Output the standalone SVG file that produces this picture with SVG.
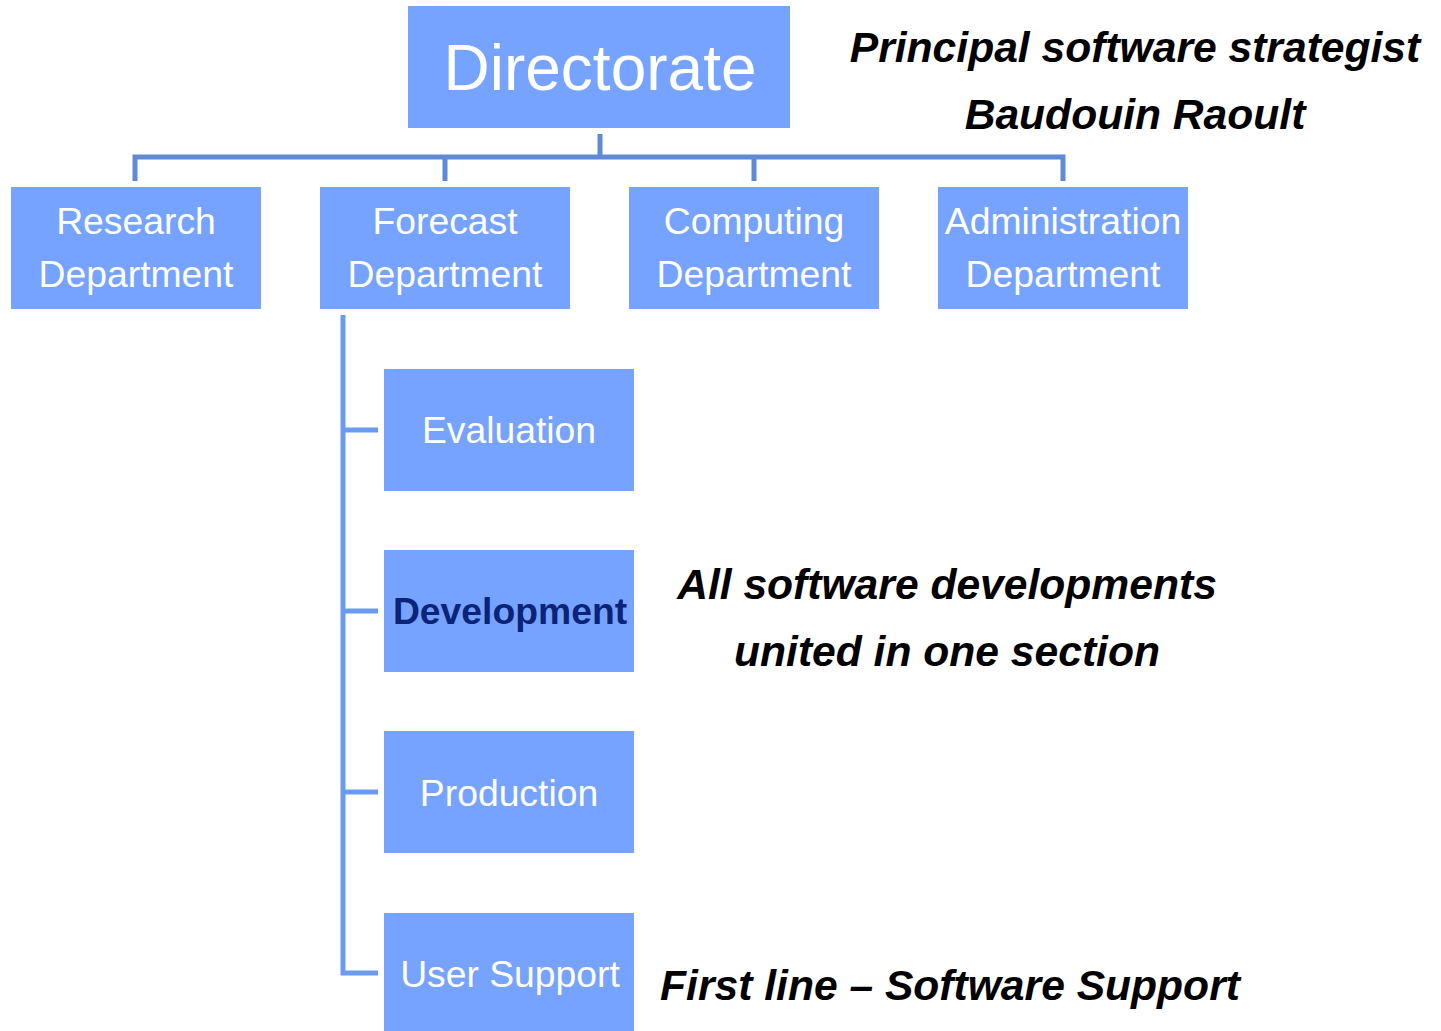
<svg xmlns="http://www.w3.org/2000/svg" width="1441" height="1031" viewBox="0 0 1441 1031">
<style>
.box{fill:#75A3FF;}
.t{font-family:"Liberation Sans",Arial,sans-serif;fill:#fff;text-anchor:middle;}
.d{font-size:37.3px;}
.n{font-family:"Liberation Sans",Arial,sans-serif;font-weight:bold;font-style:italic;fill:#000;text-anchor:middle;font-size:42.6px;}
.c1{fill:none;stroke:#5F8AD6;stroke-width:5;}
.c2{fill:none;stroke:#6A9BF0;stroke-width:5;}
</style>
<rect width="1441" height="1031" fill="#fff"/>
<g id="connectors">
<path class="c1" d="M600 134V157M135 181V157H1063V181M445 157V181M754 157V181"/>
<path class="c2" d="M343 315V973H378M343 430H378M343 611H378M343 792H378"/>
</g>
<g id="directorate"><rect class="box" x="408" y="6" width="382" height="122"/><text class="t" x="600" y="90" font-size="64">Directorate</text></g>
<g id="research"><rect class="box" x="11" y="187" width="250" height="122"/><text class="t d" x="136" y="234">Research</text><text class="t d" x="136" y="287">Department</text></g>
<g id="forecast"><rect class="box" x="320" y="187" width="250" height="122"/><text class="t d" x="445" y="234">Forecast</text><text class="t d" x="445" y="287">Department</text></g>
<g id="computing"><rect class="box" x="629" y="187" width="250" height="122"/><text class="t d" x="754" y="234">Computing</text><text class="t d" x="754" y="287">Department</text></g>
<g id="administration"><rect class="box" x="938" y="187" width="250" height="122"/><text class="t d" x="1063" y="234">Administration</text><text class="t d" x="1063" y="287">Department</text></g>
<g id="evaluation"><rect class="box" x="384" y="369" width="250" height="122"/><text class="t d" x="509" y="443">Evaluation</text></g>
<g id="development"><rect class="box" x="384" y="550" width="250" height="122"/><text class="t d" x="510" y="624" font-weight="bold" style="fill:#0B2378">Development</text></g>
<g id="production"><rect class="box" x="384" y="731" width="250" height="122"/><text class="t d" x="509" y="806">Production</text></g>
<g id="usersupport"><rect class="box" x="384" y="913" width="250" height="122"/><text class="t d" x="510" y="987">User Support</text></g>
<g id="notes">
<text class="n" x="1135" y="62">Principal software strategist</text>
<text class="n" x="1135" y="129">Baudouin Raoult</text>
<text class="n" x="947" y="599">All software developments</text>
<text class="n" x="947" y="666">united in one section</text>
<text class="n" x="950" y="1000">First line – Software Support</text>
</g>
</svg>
